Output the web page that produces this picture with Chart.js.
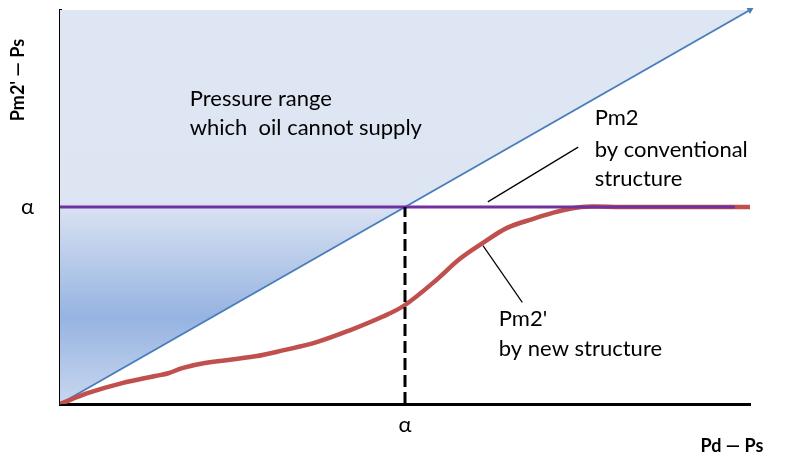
<!DOCTYPE html>
<html>
<head>
<meta charset="utf-8">
<script src="https://cdn.jsdelivr.net/npm/chart.js@4.4.1/dist/chart.umd.min.js"></script>
<style>
  html, body { margin: 0; padding: 0; background: #fff; }
  #wrap { width: 787px; height: 460px; }
</style>
</head>
<body>
<div id="wrap"><canvas id="chart" width="787" height="460"></canvas></div>
<script>
// x = Pd - Ps, y = Pm2' - Ps, both scaled 0..1, alpha at 0.5
var ALPHA = 0.5;
var limitX = [0, 1];
var limitY = [0, 1];
var conventionalX = [0, 0.978];
var conventionalY = [ALPHA, ALPHA];
var newX = [0, 0.041, 0.09, 0.138, 0.157, 0.177, 0.21, 0.283, 0.323, 0.372, 0.42, 0.468, 0.499, 0.541, 0.58, 0.613, 0.648, 0.686, 0.714, 0.743, 0.77, 0.812, 1];
var newY = [0, 0.028, 0.053, 0.071, 0.078, 0.091, 0.104, 0.121, 0.136, 0.157, 0.187, 0.222, 0.25, 0.308, 0.369, 0.409, 0.447, 0.47, 0.485, 0.497, 0.501, 0.5, 0.5];
var tickLabels = ['α'];
var tickValues = [ALPHA];

// callouts: leader line + text
var leaderConv = [[0.62, 0.513], [0.751, 0.652]];
var leaderNew = [[0.613, 0.402], [0.67, 0.258]];
var notes = [
  { x: 0.188, y: 0.775, text: 'Pressure range' },
  { x: 0.188, y: 0.70, text: 'which  oil cannot supply' },
  { x: 0.775, y: 0.725, text: 'Pm2' },
  { x: 0.775, y: 0.646, text: 'by conventional' },
  { x: 0.775, y: 0.571, text: 'structure' },
  { x: 0.636, y: 0.217, text: "Pm2'" },
  { x: 0.636, y: 0.139, text: 'by new structure' }
];

function pts(xs, ys) {
  return xs.map(function(x, i) { return { x: x, y: ys[i] }; });
}
function pairs(p) {
  return p.map(function(a) { return { x: a[0], y: a[1] }; });
}

function shadeFill(ctx) {
  var area = ctx.chart.chartArea;
  if (!area) return '#dfe6f3';
  var g = ctx.chart.ctx.createLinearGradient(0, area.top, 0, area.bottom);
  g.addColorStop(0, '#dfe6f3');
  g.addColorStop(0.48, '#dde5f3');
  g.addColorStop(0.78, '#96b3e1');
  g.addColorStop(1, '#c9d7ef');
  return g;
}

var labelsPlugin = {
  id: 'labels',
  afterDatasetsDraw: function(chart) {
    var c = chart.ctx, xs = chart.scales.x, ys = chart.scales.y;
    c.save();
    c.fillStyle = '#000';
    c.font = '22px Lato, "Open Sans", sans-serif';
    c.textAlign = 'left';
    c.textBaseline = 'middle';
    notes.forEach(function(n) {
      c.fillText(n.text, xs.getPixelForValue(n.x), ys.getPixelForValue(n.y));
    });
    // axis titles
    c.font = 'bold 18px Lato, "Open Sans", sans-serif';
    c.textAlign = 'center';
    c.fillText('Pd \u2014 Ps', 732, 446);
    c.translate(18, 80);
    c.rotate(-Math.PI / 2);
    c.fillText("Pm2' \u2014 Ps", 0, 0);
    c.restore();
  }
};

new Chart(document.getElementById('chart'), {
  type: 'scatter',
  data: {
    datasets: [
      {
        label: 'limit',
        data: pts(limitX, limitY),
        showLine: true,
        clip: 8,
        borderColor: '#4a7ebb',
        borderWidth: 2,
        fill: 'end',
        backgroundColor: shadeFill,
        pointRadius: [0, 4],
        pointStyle: 'triangle',
        rotation: 60,
        pointBackgroundColor: '#4a7ebb',
        pointBorderWidth: 0,
        order: 5
      },
      {
        label: "Pm2'",
        data: pts(newX, newY),
        showLine: true,
        borderColor: '#c0504d',
        borderWidth: 4.5,
        tension: 0.35,
        pointRadius: 0,
        fill: false,
        order: 3
      },
      {
        label: 'Pm2',
        data: pts(conventionalX, conventionalY),
        showLine: true,
        borderColor: '#7030a0',
        borderWidth: 3,
        pointRadius: 0,
        fill: false,
        order: 2
      },
      {
        label: 'alpha',
        data: [{ x: ALPHA, y: 0 }, { x: ALPHA, y: ALPHA }],
        showLine: true,
        borderColor: '#000',
        borderWidth: 3,
        borderDash: [12, 5],
        pointRadius: 0,
        fill: false,
        order: 1
      },
      {
        label: 'lead1',
        data: pairs(leaderConv),
        showLine: true,
        borderColor: '#000',
        borderWidth: 1.2,
        pointRadius: 0,
        fill: false,
        order: 1
      },
      {
        label: 'lead2',
        data: pairs(leaderNew),
        showLine: true,
        borderColor: '#000',
        borderWidth: 1.2,
        pointRadius: 0,
        fill: false,
        order: 1
      }
    ]
  },
  options: {
    responsive: false,
    animation: false,
    layout: { padding: { top: 10, right: 37, left: 0, bottom: 0 } },
    plugins: {
      legend: { display: false },
      tooltip: { enabled: false }
    },
    scales: {
      x: {
        min: 0, max: 1,
        grid: { display: false },
        border: { color: '#000', width: 3 },
        afterBuildTicks: function(s) { s.ticks = tickValues.map(function(v) { return { value: v }; }); },
        afterFit: function(s) { s.height = 56; s.paddingLeft = 0; s.paddingRight = 0; },
        ticks: {
          padding: 0,
          color: '#000',
          font: { family: 'Lato, "Open Sans", sans-serif', size: 22 },
          callback: function(v, i) { return tickLabels[i]; }
        }
      },
      y: {
        min: 0, max: 1,
        grid: { display: false },
        border: { color: '#000', width: 3 },
        afterBuildTicks: function(s) { s.ticks = tickValues.map(function(v) { return { value: v }; }); },
        afterFit: function(s) { s.width = 60; s.paddingTop = 0; s.paddingBottom = 0; },
        ticks: {
          padding: 18,
          color: '#000',
          font: { family: 'Lato, "Open Sans", sans-serif', size: 22 },
          callback: function(v, i) { return tickLabels[i]; }
        }
      }
    }
  },
  plugins: [labelsPlugin]
});
</script>
</body>
</html>
